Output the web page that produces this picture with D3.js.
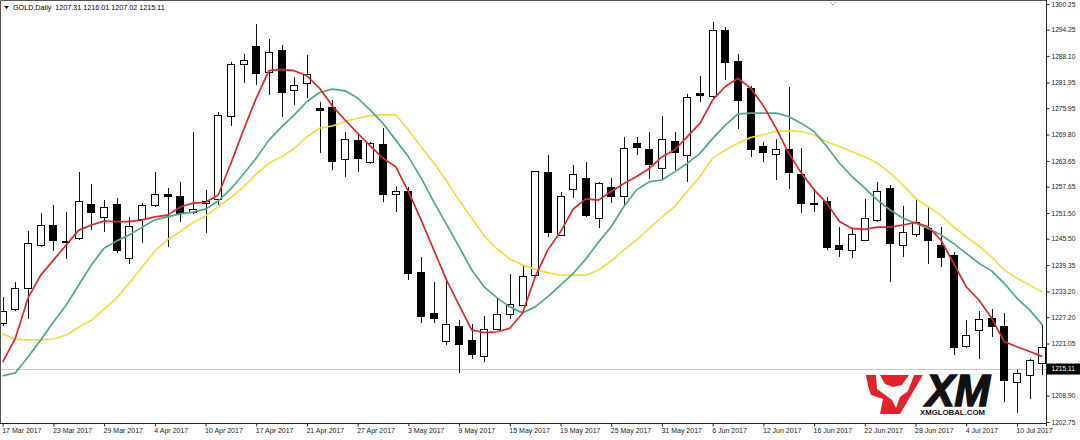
<!DOCTYPE html>
<html>
<head>
<meta charset="utf-8">
<script src="https://cdn.jsdelivr.net/npm/d3@7"></script>
<style>
  body { margin: 0; background: #fff; }
  svg { display: block; font-family: "Liberation Sans", Arial, sans-serif; }
</style>
</head>
<body>
<div id="chart"></div>
<script>
// GOLD, daily bars from 17 Mar 2017 to 12 Jul 2017 (83 bars)
const opens = [
  1225.8, 1229.0, 1233.9, 1244.0, 1248.5, 1244.9, 1245.6, 1253.5, 1250.5, 1253.5,
  1240.8, 1249.9, 1253.2, 1255.8, 1255.3, 1251.7, 1253.7, 1254.7, 1274.0, 1286.2,
  1290.3, 1284.3, 1289.5, 1280.1, 1281.8, 1275.8, 1276.2, 1264.0, 1268.4, 1263.2,
  1267.4, 1255.9, 1256.5, 1237.7, 1228.1, 1221.5, 1225.0, 1221.7, 1218.0, 1224.4,
  1227.9, 1230.0, 1236.9, 1260.9, 1246.2, 1256.9, 1259.6, 1250.3, 1257.5, 1255.3,
  1267.8, 1266.2, 1261.9, 1268.1, 1265.0, 1279.4, 1278.6, 1294.0, 1286.8, 1280.6,
  1267.1, 1265.2, 1266.2, 1260.5, 1253.8, 1254.1, 1244.0, 1242.7, 1245.2, 1249.7,
  1257.1, 1243.9, 1246.5, 1247.9, 1244.0, 1241.5, 1220.3, 1224.0, 1226.8, 1225.0,
  1212.0, 1213.5, 1216.3
];
const highs = [
  1231.9, 1235.5, 1247.4, 1251.4, 1253.3, 1251.8, 1261.0, 1258.3, 1254.5, 1254.9,
  1250.5, 1253.9, 1261.1, 1257.3, 1258.8, 1270.4, 1256.9, 1275.1, 1286.7, 1288.6,
  1295.6, 1292.2, 1290.7, 1283.2, 1288.4, 1277.5, 1277.9, 1270.5, 1270.1, 1268.1,
  1271.3, 1257.8, 1257.6, 1241.2, 1235.5, 1236.3, 1226.5, 1225.6, 1227.5, 1231.6,
  1237.2, 1239.1, 1261.3, 1265.0, 1256.3, 1262.6, 1263.5, 1258.8, 1259.6, 1269.3,
  1269.2, 1270.5, 1274.1, 1270.3, 1279.3, 1283.5, 1296.0, 1295.0, 1288.7, 1281.1,
  1268.1, 1268.7, 1280.9, 1266.6, 1257.1, 1255.3, 1248.2, 1247.9, 1254.7, 1258.8,
  1258.0, 1253.1, 1254.5, 1253.0, 1248.2, 1242.5, 1226.5, 1228.6, 1229.0, 1228.2,
  1215.1, 1217.4, 1225.4
];
const lows = [
  1225.1, 1228.6, 1226.7, 1243.6, 1242.7, 1240.8, 1245.3, 1247.5, 1247.1, 1242.1,
  1239.6, 1244.4, 1253.0, 1243.5, 1249.5, 1251.3, 1246.8, 1253.4, 1271.8, 1281.8,
  1281.4, 1279.0, 1274.0, 1276.7, 1278.3, 1265.6, 1261.5, 1260.0, 1261.1, 1262.9,
  1254.1, 1251.8, 1235.9, 1225.8, 1225.8, 1220.7, 1214.2, 1217.4, 1216.8, 1224.2,
  1226.7, 1229.8, 1236.7, 1245.8, 1246.1, 1254.9, 1250.6, 1247.9, 1253.8, 1253.4,
  1265.0, 1259.4, 1259.4, 1261.5, 1258.8, 1277.5, 1278.4, 1282.5, 1271.0, 1264.6,
  1263.3, 1259.2, 1257.1, 1251.4, 1251.8, 1242.9, 1241.2, 1240.9, 1245.0, 1249.5,
  1235.5, 1241.2, 1246.0, 1239.6, 1239.0, 1218.4, 1220.0, 1217.4, 1222.6, 1207.3,
  1204.8, 1208.0, 1213.6
];
const closes = [
  1228.6, 1233.9, 1244.4, 1248.6, 1245.0, 1244.6, 1254.1, 1251.6, 1252.7, 1242.7,
  1248.3, 1253.3, 1255.9, 1255.3, 1251.4, 1252.3, 1254.1, 1274.2, 1286.2, 1287.1,
  1284.1, 1289.0, 1279.6, 1281.3, 1283.9, 1275.3, 1263.5, 1268.7, 1264.1, 1267.8,
  1255.9, 1256.6, 1237.4, 1227.3, 1226.9, 1225.6, 1220.9, 1218.6, 1224.4, 1227.9,
  1230.2, 1236.8, 1261.1, 1246.9, 1255.3, 1260.4, 1251.0, 1258.4, 1255.3, 1266.6,
  1266.8, 1262.9, 1268.7, 1265.7, 1278.5, 1279.0, 1294.0, 1286.6, 1277.7, 1266.4,
  1265.6, 1266.4, 1260.9, 1253.8, 1253.4, 1243.5, 1243.0, 1246.4, 1250.3, 1256.6,
  1244.3, 1247.0, 1249.4, 1245.0, 1241.2, 1220.1, 1223.0, 1226.7, 1225.0, 1212.5,
  1214.1, 1217.0, 1220.2
];

// moving averages (red = fast, green = middle, yellow = slow)
const maFast = [
  1216.7, 1222.3, 1231.7, 1237.0, 1240.5, 1244.0, 1247.5, 1248.7, 1249.6, 1249.5,
  1249.5, 1249.9, 1250.6, 1251.0, 1252.9, 1253.8, 1254.0, 1255.7, 1263.1, 1270.9,
  1278.3, 1284.7, 1285.0, 1284.7, 1283.5, 1280.6, 1276.5, 1273.2, 1270.1, 1267.1,
  1264.3, 1262.3, 1256.5, 1249.9, 1242.9, 1235.9, 1230.0, 1224.2, 1223.6, 1223.8,
  1224.6, 1228.1, 1236.6, 1242.9, 1247.1, 1252.4, 1254.8, 1254.5, 1256.5, 1258.4,
  1260.0, 1261.9, 1264.6, 1266.2, 1269.3, 1272.4, 1277.9, 1281.0, 1282.9, 1280.6,
  1276.5, 1271.3, 1265.4, 1260.8, 1256.9, 1253.8, 1249.5, 1247.9, 1247.7, 1248.2,
  1248.2, 1248.7, 1249.3, 1248.3, 1245.2, 1239.8, 1234.3, 1231.2, 1227.0, 1221.5,
  1220.3, 1219.2, 1218.0
];
const maMid = [
  1213.5, 1214.2, 1217.9, 1221.9, 1226.1, 1230.0, 1234.7, 1239.4, 1243.3, 1245.0,
  1246.4, 1248.2, 1249.9, 1250.6, 1251.3, 1251.7, 1252.4, 1254.3, 1257.1, 1260.6,
  1264.3, 1268.5, 1271.6, 1274.4, 1277.5, 1279.6, 1280.4, 1280.0, 1278.3, 1275.5,
  1272.4, 1268.5, 1264.6, 1259.7, 1254.1, 1248.9, 1243.6, 1238.2, 1234.2, 1231.7,
  1229.6, 1228.2, 1229.6, 1232.0, 1234.7, 1237.4, 1240.8, 1244.7, 1248.3, 1253.0,
  1256.9, 1258.8, 1259.2, 1261.1, 1263.1, 1265.4, 1268.9, 1272.0, 1274.6, 1274.8,
  1274.8, 1274.8, 1274.0, 1272.4, 1270.5, 1267.0, 1263.1, 1260.0, 1257.3, 1254.5,
  1252.2, 1250.3, 1249.1, 1247.9, 1246.4, 1244.4, 1242.1, 1239.8, 1238.0, 1235.1,
  1231.6, 1228.9, 1225.4
];
const maSlow = [
  1223.3, 1222.0, 1221.9, 1221.9, 1222.1, 1223.0, 1224.9, 1226.5, 1229.1, 1231.7,
  1235.2, 1238.9, 1242.6, 1245.3, 1247.2, 1249.2, 1250.8, 1253.0, 1255.1, 1257.6,
  1260.6, 1263.1, 1264.6, 1266.6, 1269.3, 1271.3, 1271.8, 1272.8, 1273.6, 1274.2,
  1274.4, 1274.4, 1270.9, 1266.9, 1263.2, 1259.0, 1254.5, 1250.3, 1246.1, 1243.1,
  1240.8, 1239.4, 1238.4, 1237.6, 1237.0, 1237.0, 1237.0, 1238.2, 1240.3, 1242.9,
  1245.2, 1247.9, 1250.6, 1253.0, 1256.5, 1260.0, 1264.3, 1266.2, 1267.8, 1269.1,
  1269.8, 1270.5, 1270.7, 1270.5, 1269.7, 1268.1, 1267.0, 1265.8, 1264.6, 1263.1,
  1260.8, 1258.0, 1254.9, 1253.0, 1251.0, 1248.3, 1246.0, 1243.8, 1241.3, 1238.2,
  1236.3, 1234.7, 1233.1
];

// time scale labels, one every 4 bars
const dateLabels = [
  "17 Mar 2017", "23 Mar 2017", "29 Mar 2017", "4 Apr 2017", "10 Apr 2017",
  "17 Apr 2017", "21 Apr 2017", "27 Apr 2017", "3 May 2017", "9 May 2017",
  "15 May 2017", "19 May 2017", "25 May 2017", "31 May 2017", "6 Jun 2017",
  "12 Jun 2017", "16 Jun 2017", "22 Jun 2017", "28 Jun 2017", "4 Jul 2017",
  "10 Jul 2017"
];
const labelEvery = 4;

// price scale labels
const priceTicks = [
  1300.25, 1294.25, 1288.10, 1281.95, 1275.95, 1269.80, 1263.65, 1257.65,
  1251.50, 1245.50, 1239.35, 1233.20, 1227.20, 1221.05, 1208.90, 1202.75
];
const bidPrice = 1215.11;
const headerText = "GOLD,Daily  1207.31 1216.01 1207.02 1215.11";

// sizes
const width = 1080, height = 440;
const plotRight = 1046, plotBottom = 423;
const bodyWidth = 8;

const svg = d3.select("#chart").append("svg")
  .attr("width", width)
  .attr("height", height);

svg.append("rect").attr("width", width).attr("height", height).attr("fill", "#fff");

// bars are indexed 0..n-1
const bars = opens.map((o, i) => ({ i: i, o: o, h: highs[i], l: lows[i], c: closes[i] }));

const x = d3.scaleLinear().domain([0, bars.length - 1]).range([2.7, 1042.3]);
const y = d3.scaleLinear().domain([1202.75, 1300.25]).range([422, 4]);

svg.append("clipPath").attr("id", "plot-clip")
  .append("rect").attr("x", 1).attr("y", 1)
  .attr("width", plotRight - 1).attr("height", plotBottom - 1);

const plot = svg.append("g").attr("clip-path", "url(#plot-clip)");

// bid line
plot.append("line")
  .attr("x1", 0).attr("x2", plotRight)
  .attr("y1", Math.round(y(bidPrice)) + 0.5).attr("y2", Math.round(y(bidPrice)) + 0.5)
  .attr("stroke", "#c9c9c9");

// candles
const candle = plot.append("g").attr("shape-rendering", "crispEdges")
  .selectAll("g")
  .data(bars)
  .enter().append("g");

candle.append("line")
  .attr("x1", d => Math.round(x(d.i)) + 0.5)
  .attr("x2", d => Math.round(x(d.i)) + 0.5)
  .attr("y1", d => y(d.h))
  .attr("y2", d => y(d.l))
  .attr("stroke", "#111");

candle.append("rect")
  .attr("x", d => Math.round(x(d.i)) - bodyWidth / 2 + 0.5)
  .attr("y", d => y(Math.max(d.o, d.c)))
  .attr("width", bodyWidth - 1)
  .attr("height", d => Math.max(1, Math.abs(y(d.o) - y(d.c))))
  .attr("fill", d => d.c >= d.o ? "#fff" : "#000")
  .attr("stroke", "#000");

// moving averages
const maLine = d3.line().x((d, i) => x(i)).y(d => y(d));
[[maSlow, "#f0dd40"], [maMid, "#4fa88d"], [maFast, "#d42a2e"]].forEach(([vals, col]) => {
  plot.append("path")
    .attr("d", maLine(vals))
    .attr("fill", "none")
    .attr("stroke", col)
    .attr("stroke-width", 1.7)
    .attr("stroke-linejoin", "round");
});

// XM logo (bottom right)
const logo = svg.append("g");
logo.append("path")
  .attr("d", "M866,375 L923,375 L900,414 L880,414 L883,399 L871,395 L868,386 Z")
  .attr("fill", "#e3232b");
logo.append("path")
  .attr("d", "M880,375 L885,384 L893,387 L902,385 L909,375 L914,375 L908,391 L900,397 L896,408 L892,400 L884,394 L877,389 L876,375 Z")
  .attr("fill", "#fff");
logo.append("text")
  .attr("x", 926).attr("y", 406)
  .attr("font-size", 45).attr("font-weight", "bold").attr("font-style", "italic")
  .attr("textLength", 64).attr("lengthAdjust", "spacingAndGlyphs")
  .attr("fill", "#111").attr("stroke", "#111").attr("stroke-width", 1.6)
  .text("XM");
logo.append("text")
  .attr("x", 920).attr("y", 415)
  .attr("font-size", 8).attr("font-weight", "bold")
  .attr("textLength", 65).attr("lengthAdjust", "spacingAndGlyphs")
  .attr("fill", "#111")
  .text("XMGLOBAL.COM");

// frame
svg.append("path")
  .attr("d", `M0.5,${plotBottom + 0.5} V0.5 H${plotRight + 0.5}`)
  .attr("fill", "none").attr("stroke", "#555");
svg.append("line")
  .attr("x1", 0).attr("x2", plotRight + 1)
  .attr("y1", plotBottom + 0.5).attr("y2", plotBottom + 0.5)
  .attr("stroke", "#222");
svg.append("line")
  .attr("x1", plotRight + 0.5).attr("x2", plotRight + 0.5)
  .attr("y1", 0).attr("y2", plotBottom + 3)
  .attr("stroke", "#222");

// small one-click toggle mark at the top
svg.append("path").attr("d", "M830,2 L833,5 L836,2").attr("fill", "none").attr("stroke", "#aaa");

// price axis
const yAxis = svg.append("g")
  .attr("transform", `translate(${plotRight + 0.5},0)`)
  .call(d3.axisRight(y).tickValues(priceTicks).tickFormat(d3.format(".2f")).tickSize(3).tickPadding(2));
yAxis.select(".domain").remove();
yAxis.selectAll("line").attr("stroke", "#222");
yAxis.selectAll("text").attr("font-size", 6.6).attr("fill", "#222")
  .attr("font-family", "Liberation Sans, Arial, sans-serif");

// bid label
const by = y(bidPrice);
svg.append("rect")
  .attr("x", plotRight + 1).attr("y", by - 5.5)
  .attr("width", width - plotRight - 1).attr("height", 11)
  .attr("fill", "#000");
svg.append("text")
  .attr("x", plotRight + 5.5).attr("y", by + 2.3)
  .attr("font-size", 6.6).attr("fill", "#fff")
  .text(bidPrice.toFixed(2));

// time axis
const xAxis = svg.append("g")
  .attr("transform", `translate(0,${plotBottom + 0.5})`)
  .call(d3.axisBottom(x)
    .tickValues(dateLabels.map((d, i) => i * labelEvery))
    .tickFormat((d, i) => dateLabels[i])
    .tickSize(3));
xAxis.select(".domain").remove();
xAxis.selectAll("line").attr("stroke", "#222");
xAxis.selectAll("text")
  .attr("text-anchor", "start")
  .attr("x", -1).attr("y", 5)
  .attr("font-size", 7).attr("fill", "#222")
  .attr("font-family", "Liberation Sans, Arial, sans-serif");

// header
svg.append("path").attr("d", "M4,6 L9,6 L6.5,9 Z").attr("fill", "#000");
svg.append("text")
  .attr("x", 13).attr("y", 10)
  .attr("font-size", 7.2).attr("fill", "#000")
  .attr("xml:space", "preserve")
  .text(headerText);
</script>
</body>
</html>
